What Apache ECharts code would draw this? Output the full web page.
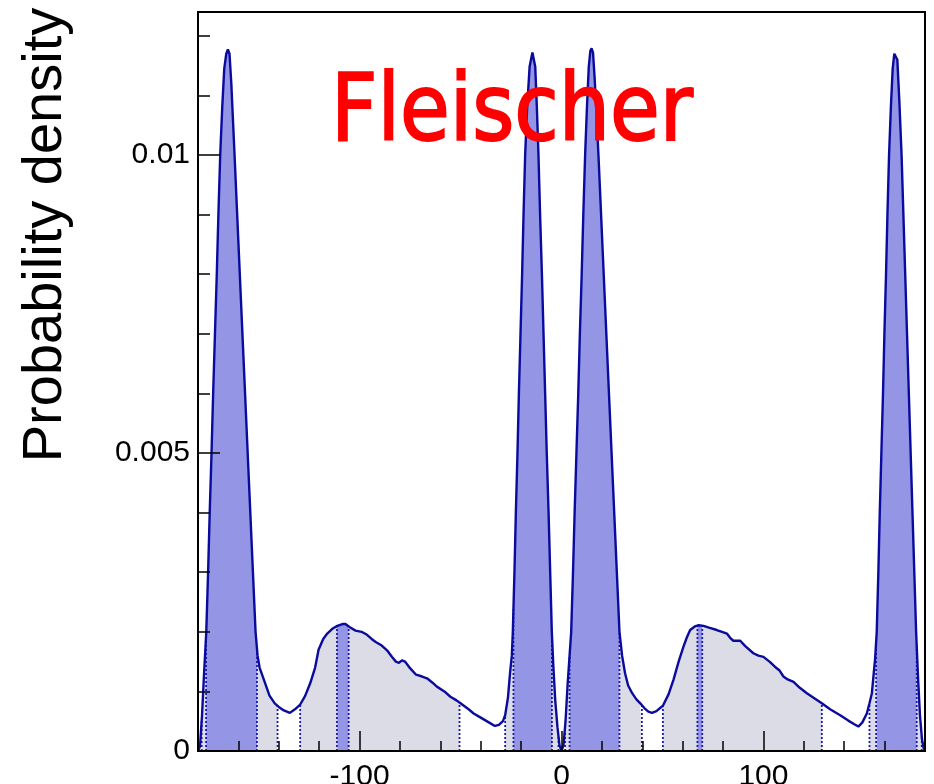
<!DOCTYPE html>
<html><head><meta charset="utf-8">
<script src="https://cdn.jsdelivr.net/npm/echarts@6/dist/echarts.min.js"></script>
<style>html,body{margin:0;padding:0;background:#fff}#c{width:934px;height:784px}</style>
</head><body><div id="c"></div>
<script>
// angle (deg) and probability density
const angles = [
-180,-179,-178,-177,-175.9,-175.0,-174.2,-173.3,-172.5,-171.6,-170.7,-169.9,-169.0,-168,-167,-166,-165.2,-164.4,-163.5,-162.7,-161.9,-160.6,-159.3,-158.0,-156.7,-155.4,-154.1,-152.8,-151.5,-150.5,-149.5,-147,-144.6,-142,-140,-137.5,-134.5,-132,-129.4,-127,-124.4,-122,-120.3,-118,-116,-113.5,-111,-108.5,-107,-105,-102,-99,-96.3,-94,-92,-89,-86.4,-84,-82,-80.5,-79,-77.5,-75,-72,-69,-66.6,-64,-61.7,-58,-55,-52,-50,-46,-43.5,-40,-36,-33,-31,-29,-27.9,-26.5,-25.5,-24.6,-24.1,-23.3,-22.6,-21.8,-21.1,-20.3,-19.5,-18.8,-18.0,-17,-15.8,-14.4,-13,-12.2,-11.4,-10.6,-9.7,-8.9,-8.1,-7.3,-6.4,-5.6,-4.8,-4,-3.1,-2,-1,
0,1,2,3,4,4.8,5.7,6.5,7.4,8.3,9.1,10.0,10.8,11.7,12.6,13.5,14.3,14.9,15.6,16.4,17.3,18.3,19.6,20.9,22.2,23.5,24.8,26.1,27.4,28.7,30,31.5,33,35,37,39,41,43,44.8,47,50.2,53,55.4,58,60.4,62,63.7,66,68,70.3,73,76.9,79.5,81.9,83.5,85.1,88.5,91,95,97.5,100,103,105.8,108,109.9,112,114.9,118,121.5,125,128.9,133,138,142,145,147,149,151.2,152.5,153.7,154.6,155.3,156.1,156.9,157.6,158.4,159.2,159.9,160.7,161.4,162.2,163.1,164,164.8,165.5,166.3,167.3,168.4,169.3,170.2,171.1,172.0,172.9,173.8,174.7,175.6,176.6,177.5,178.5,179.3,180];
const density = [
0,0.00008,0.0006,0.0013,0.002,0.003,0.004,0.005,0.006,0.007,0.008,0.009,0.010,0.0108,0.01145,0.0117,0.01177,0.0117,0.0112,0.0106,0.0100,0.009,0.008,0.007,0.006,0.005,0.004,0.003,0.002,0.0016,0.0014,0.00116,0.00093,0.0008,0.00074,0.00068,0.00064,0.0007,0.00078,0.00092,0.00114,0.0014,0.0017,0.00188,0.00197,0.00205,0.0021,0.00213,0.00213,0.00208,0.00202,0.002,0.00195,0.00188,0.00183,0.00177,0.00169,0.00158,0.0015,0.00148,0.00152,0.0015,0.00139,0.00128,0.00125,0.00122,0.00115,0.00108,0.001,0.00091,0.00085,0.0008,0.0007,0.00063,0.00056,0.00048,0.00042,0.00044,0.0005,0.0006,0.0009,0.0013,0.0016,0.002,0.003,0.004,0.005,0.006,0.007,0.008,0.009,0.010,0.0108,0.01148,0.01172,0.01148,0.0108,0.0100,0.009,0.008,0.007,0.006,0.005,0.004,0.003,0.002,0.0014,0.00085,0.0004,0.0001,
0,0.0001,0.0005,0.0011,0.0016,0.002,0.003,0.004,0.005,0.006,0.007,0.008,0.009,0.010,0.0108,0.01148,0.01175,0.01179,0.01172,0.0113,0.0107,0.0100,0.009,0.008,0.007,0.006,0.005,0.004,0.003,0.002,0.0016,0.0013,0.0011,0.00097,0.00087,0.0008,0.00072,0.00066,0.00064,0.00067,0.00076,0.00095,0.00119,0.0015,0.00175,0.0019,0.00203,0.00209,0.00211,0.0021,0.00207,0.00203,0.002,0.00197,0.0019,0.00185,0.00185,0.00176,0.00164,0.0016,0.00158,0.0015,0.00141,0.00135,0.00125,0.0012,0.00116,0.00106,0.00097,0.00089,0.0008,0.0007,0.0006,0.00051,0.00045,0.00041,0.00048,0.00063,0.0008,0.00097,0.0013,0.00155,0.002,0.003,0.004,0.005,0.006,0.007,0.008,0.009,0.010,0.0108,0.01145,0.0117,0.01172,0.0116,0.0109,0.010,0.009,0.008,0.007,0.006,0.005,0.004,0.003,0.002,0.0012,0.0006,0.0002,0.00005,0];

// interval boundaries (deg) and fill kind of each interval between them
const boundaries = [-178.2,-176.0,-150.8,-140.6,-129.4,-111.2,-105.4,-50.5,-27.9,-23.8,-4.75,-1.5,1.8,4.0,28.7,39.8,50.2,67.3,69.7,128.9,152.5,155.8,175.9,178.4];
const regionKinds = ['none','light','dark','light','none','light','dark','light','none','light','dark','light','none','light','dark','light','none','light','dark','light','none','light','dark','light','none'];

const xTickValues = [-100, 0, 100];
const yTickValues = [0, 0.005, 0.01];
const yTitle = 'Probability density';
const plotLabel = 'Fleischer';

const COLORS = { dark: '#9595e6', light: '#dcdce6', line: '#0a0a9c', dots: '#1818b0' };

function f(v) {
  for (let i = 0; i < angles.length - 1; i++) {
    if (v >= angles[i] && v <= angles[i + 1]) {
      const t = (v - angles[i]) / (angles[i + 1] - angles[i]);
      return density[i] + t * (density[i + 1] - density[i]);
    }
  }
  return 0;
}

const curve = angles.map((a, i) => [a, density[i]]);
const edges = [-180].concat(boundaries, [180]);
const series = [];
regionKinds.forEach((k, i) => {
  if (k === 'none') return;
  const a = edges[i], b = edges[i + 1];
  const pts = [[a, f(a)]];
  angles.forEach((x, j) => { if (x > a && x < b) pts.push([x, density[j]]); });
  pts.push([b, f(b)]);
  series.push({ type: 'line', data: pts, symbol: 'none', silent: true, z: 1,
    lineStyle: { width: 0, opacity: 0 }, areaStyle: { color: COLORS[k], opacity: 1 } });
});
boundaries.forEach(b => {
  series.push({ type: 'line', data: [[b, 0], [b, f(b)]], symbol: 'none', silent: true, z: 2,
    lineStyle: { color: COLORS.dots, width: 1.8, type: [2, 2] } });
});
series.push({ type: 'line', data: curve, symbol: 'none', silent: true, z: 3,
  lineStyle: { color: COLORS.line, width: 2.4 } });

const chart = echarts.init(document.getElementById('c'), null, { renderer: 'canvas' });
const axisFont = { fontFamily: '"Liberation Sans", Arial, sans-serif', fontSize: 30, color: '#000' };
chart.setOption({
  animation: false,
  backgroundColor: '#fff',
  grid: { left: 198, right: 9, top: 12, bottom: 33, containLabel: false, outerBoundsMode: 'none',
    show: true, borderColor: '#000', borderWidth: 2, backgroundColor: 'transparent', z: 20 },
  xAxis: [
    { type: 'value', min: -180, max: 180, interval: 20, z: 10,
      axisLine: { show: true, onZero: false, lineStyle: { color: '#000', width: 2 } },
      axisTick: { inside: true, length: 10, lineStyle: { color: '#000', width: 1.5 } },
      axisLabel: { show: false }, splitLine: { show: false } },
    { type: 'value', min: -180, max: 180, position: 'bottom', z: 10,
      axisLine: { show: false, onZero: false },
      axisTick: { inside: true, length: 20, customValues: xTickValues, lineStyle: { color: '#000', width: 1.5 } },
      axisLabel: Object.assign({ customValues: xTickValues, margin: 11, formatter: v => String(v) }, axisFont),
      splitLine: { show: false } }
  ],
  yAxis: [
    { type: 'value', min: 0, max: 0.0124, interval: 0.001, z: 10,
      axisLine: { show: true, onZero: false, lineStyle: { color: '#000', width: 2 } },
      axisTick: { inside: true, length: 12, lineStyle: { color: '#000', width: 1.5 } },
      axisLabel: { show: false }, splitLine: { show: false } },
    { type: 'value', min: 0, max: 0.0124, position: 'left', z: 10,
      axisLine: { show: false, onZero: false },
      axisTick: { inside: true, length: 22, customValues: yTickValues, lineStyle: { color: '#000', width: 1.5 } },
      axisLabel: Object.assign({ customValues: yTickValues, margin: 8, formatter: v => String(v) }, axisFont),
      splitLine: { show: false } }
  ],
  series: series,
  graphic: [
    { type: 'text', x: 46, y: 235, rotation: Math.PI / 2, z: 50,
      style: { text: yTitle, font: '56px "Liberation Sans", Arial, sans-serif', fill: '#000', align: 'center', verticalAlign: 'middle' } },
    { type: 'text', x: 512, y: 116, scaleX: 0.87, z: 50,
      style: { text: plotLabel, font: '93px "DejaVu Sans", sans-serif', fill: '#ff0000', stroke: '#ff0000', lineWidth: 2, align: 'center', verticalAlign: 'middle' } }
  ]
});
</script></body></html>
